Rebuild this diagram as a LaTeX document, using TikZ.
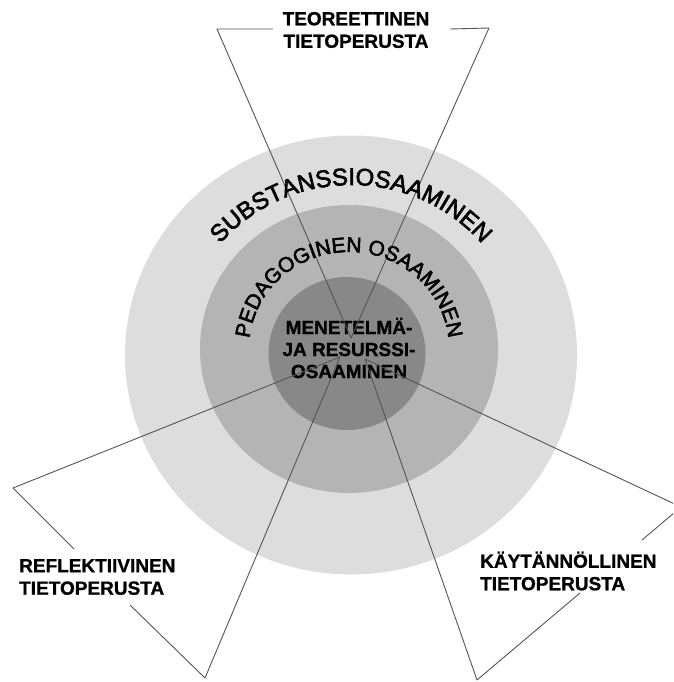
\documentclass[tikz,border=0pt]{standalone}
\usepackage{fontspec}
\setmainfont{Liberation Sans}[BoldFeatures={FakeBold=1}]
\newfontfamily\arcfont[FakeBold=2.5]{Liberation Sans}
\usetikzlibrary{decorations.text}

\definecolor{ringouter}{gray}{0.867}
\definecolor{ringmid}{gray}{0.706}
\definecolor{ringinner}{gray}{0.533}
\definecolor{fanline}{gray}{0.33}

\begin{document}
\begin{tikzpicture}[x=1pt,y=-1pt,
  fan/.style={draw=fanline, line width=0.9pt, line join=round},
  baselabel/.style={font=\fontsize{19}{22.5}\selectfont\bfseries, align=left, inner sep=0pt},
  corelabel/.style={font=\fontsize{19}{22}\selectfont\bfseries, align=center, inner sep=0pt}]
\useasboundingbox (0,0) rectangle (673,682);
\clip (0,0) rectangle (673,682);

% three nested rings
\fill[ringouter] (351,355) ellipse [x radius=226, y radius=219.5];
\fill[ringmid] (349,349) ellipse [x radius=149, y radius=144];
\fill[ringinner] (347,353.5) ellipse [x radius=78.5, y radius=76.5];

% knowledge-base labels and the core label
\node[baselabel, align=center] (teor) at (356,30) {TEOREETTINEN\\TIETOPERUSTA};
\node[baselabel, anchor=west] (refl) at (19,577) {REFLEKTIIVINEN\\TIETOPERUSTA};
\node[baselabel, anchor=west] (kayt) at (480,571) {KÄYTÄNNÖLLINEN\\TIETOPERUSTA};
\node[corelabel] (core) at (349,348) {MENETELMÄ-\\JA RESURSSI-\\OSAAMINEN};

% fan corners
\coordinate (tapex) at (351,338);
\coordinate (tleft) at (217,29);
\coordinate (tright) at (489,28);
\coordinate (tgapL) at (273,29);
\coordinate (tgapR) at (450,29);

\coordinate (lapex) at (340,357);
\coordinate (lleft) at (13,488);
\coordinate (lbottom) at (205,678);
\coordinate (lgapA) at (74,549);
\coordinate (lgapB) at (130,605);

\coordinate (rapex) at (365,359);
\coordinate (rright) at (681,507);
\coordinate (rbottom) at (477,680);
\coordinate (rgapA) at (642,540);
\coordinate (rgapB) at (580,593);

\draw[fan] (tgapL) -- (tleft) -- (tapex) -- (tright) -- (tgapR);
\draw[fan] (lgapA) -- (lleft) -- (lapex) -- (lbottom) -- (lgapB);
\draw[fan] (rgapA) -- (rright) -- (rapex) -- (rbottom) -- (rgapB);

% ring titles set along the arcs
\path[decorate, decoration={text along path, text align=center,
  text={|\arcfont\fontsize{24}{24}\selectfont|SUBSTANSSIOSAAMINEN}}]
  (351,355) ++(-173,0) arc[start angle=180, end angle=360, x radius=173, y radius=170];
\path[decorate, decoration={text along path, text align=center,
  text={|\arcfont\fontsize{21}{21}\selectfont|PEDAGOGINEN OSAAMINEN}}]
  (349,349) ++(-100,0) arc[start angle=180, end angle=360, x radius=100, y radius=97];
\end{tikzpicture}
\end{document}
